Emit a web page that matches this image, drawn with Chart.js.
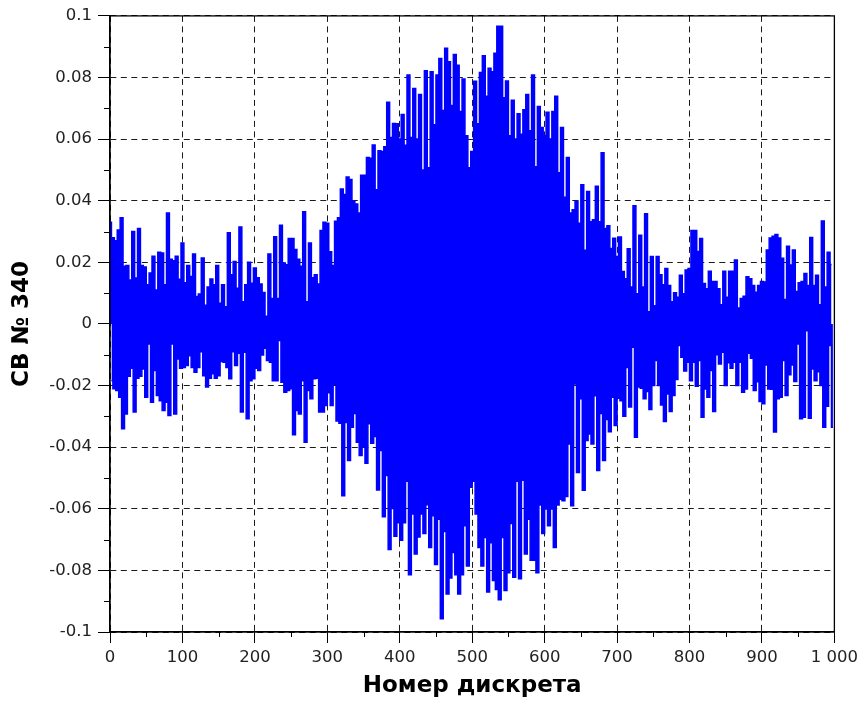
<!DOCTYPE html>
<html>
<head>
<meta charset="utf-8">
<script src="https://cdn.jsdelivr.net/npm/chart.js@4/dist/chart.umd.min.js"></script>
<style>
  html, body { margin: 0; padding: 0; background: #fff; }
  #wrap { width: 863px; height: 703px; }
</style>
</head>
<body>
<div id="wrap"><canvas id="c" width="863" height="703"></canvas></div>
<script>
// Positive swing of the signal, one value per 4 samples (samples 0, 4, 8, ...)
const peaksUp = [
  0.033, 0.028, 0.027, 0.0305, 0.0345, 0.0187, 0.019, 0.0143, 0.030, 0.0149, 0.031, 0.019, 0.0185, 0.0127, 0.0165, 0.022, 0.011, 0.0233, 0.023, 0.0127, 0.036, 0.021, 0.0205, 0.022, 0.0145,
  0.0263, 0.0134, 0.019, 0.0154, 0.0227, 0.0089, 0.0097, 0.0214, 0.0061, 0.012, 0.0146, 0.0127, 0.019, 0.0067, 0.0127, 0.0056, 0.0296, 0.016, 0.0203, 0.0116, 0.0315, 0.0072, 0.0127, 0.020, 0.0132,
  0.0182, 0.015, 0.013, 0.0102, 0.0025, 0.0227, 0.0083, 0.0283, 0.0083, 0.032, 0.0198, 0.0192, 0.0277, 0.0277, 0.0242, 0.021, 0.0187, 0.0364, 0.0072, 0.0263, 0.015, 0.016, 0.013, 0.0303, 0.033,
  0.0327, 0.0234, 0.019, 0.0333, 0.0345, 0.0438, 0.042, 0.0477, 0.0469, 0.0398, 0.0389, 0.036, 0.0483, 0.0483, 0.054, 0.0538, 0.0581, 0.0436, 0.0562, 0.056, 0.0575, 0.072, 0.0605, 0.0651, 0.065,
  0.060, 0.068, 0.058, 0.0808, 0.0605, 0.0764, 0.060, 0.0745, 0.050, 0.0822, 0.0507, 0.0819, 0.0647, 0.0808, 0.0862, 0.0693, 0.0895, 0.0851, 0.0709, 0.0875, 0.084, 0.069, 0.0795, 0.0611, 0.0507,
  0.056, 0.0788, 0.065, 0.0816, 0.0871, 0.0739, 0.083, 0.0819, 0.0879, 0.0966, 0.0966, 0.0734, 0.0789, 0.0611, 0.0726, 0.060, 0.0682, 0.0616, 0.0695, 0.0745, 0.0627, 0.0808, 0.051, 0.0706, 0.0638,
  0.0611, 0.0687, 0.060, 0.069, 0.0739, 0.0491, 0.0638, 0.0411, 0.054, 0.036, 0.0371, 0.0398, 0.0327, 0.0452, 0.0239, 0.043, 0.0332, 0.0338, 0.0447, 0.0332, 0.0556, 0.031, 0.0319, 0.0245, 0.0278,
  0.0219, 0.0282, 0.017, 0.0147, 0.0244, 0.012, 0.0384, 0.0098, 0.0288, 0.012, 0.0358, 0.004, 0.0219, 0.0059, 0.0219, 0.016, 0.0127, 0.018, 0.0125, 0.0072, 0.0101, 0.0087, 0.0158, 0.0098, 0.0175,
  0.018, 0.0303, 0.0303, 0.0235, 0.0277, 0.0131, 0.0114, 0.0171, 0.0138, 0.0138, 0.0114, 0.0062, 0.0171, 0.0087, 0.0171, 0.0171, 0.0208, 0.0052, 0.0083, 0.009, 0.0153, 0.0147, 0.0125, 0.0103, 0.0125,
  0.0138, 0.0136, 0.024, 0.0279, 0.0285, 0.029, 0.0279, 0.0213, 0.0079, 0.0252, 0.0191, 0.024, 0.0105, 0.0134, 0.0138, 0.0164, 0.0125, 0.0281, 0.0125, 0.0158, 0.0062, 0.0334, 0.012, 0.0233, 0.0193
];

// Negative swing of the signal, one value per 4 samples (samples 2, 6, 10, ...)
const peaksDown = [
  -0.0184, -0.021, -0.0216, -0.0238, -0.034, -0.0292, -0.017, -0.0144, -0.0286, -0.0176, -0.017, -0.0146, -0.0238, -0.0065, -0.0254, -0.0151, -0.0232, -0.0249, -0.0281, -0.0254, -0.0297, -0.0065, -0.0292, -0.0114, -0.0144,
  -0.0141, -0.0135, -0.0103, -0.0141, -0.0157, -0.0141, -0.009, -0.0168, -0.0205, -0.0176, -0.0162, -0.0176, -0.0168, -0.0122, -0.0124, -0.0141, -0.0178, -0.009, -0.0135, -0.0095, -0.0286, -0.0092, -0.0308, -0.0184, -0.0178,
  -0.0144, -0.0151, -0.0101, -0.0079, -0.0119, -0.0124, -0.0184, -0.0184, -0.0054, -0.0189, -0.0222, -0.0216, -0.021, -0.036, -0.0281, -0.0292, -0.0184, -0.0384, -0.0216, -0.0243, -0.0178, -0.0176, -0.0286, -0.0286, -0.0265,
  -0.0223, -0.0265, -0.0196, -0.0315, -0.0322, -0.0558, -0.032, -0.0443, -0.0335, -0.0291, -0.0384, -0.0427, -0.0398, -0.0452, -0.0324, -0.0387, -0.0365, -0.0539, -0.0411, -0.0626, -0.0492, -0.0732, -0.0599, -0.0689, -0.0645,
  -0.0702, -0.0645, -0.0511, -0.0814, -0.0617, -0.0747, -0.0692, -0.0617, -0.068, -0.0587, -0.0726, -0.0623, -0.0781, -0.0634, -0.0957, -0.0674, -0.0877, -0.0825, -0.0742, -0.0814, -0.0877, -0.0814, -0.0655, -0.0786, -0.053,
  -0.0511, -0.0617, -0.0726, -0.0786, -0.0693, -0.087, -0.071, -0.0833, -0.0862, -0.0895, -0.0693, -0.0865, -0.0808, -0.0648, -0.0822, -0.0511, -0.0827, -0.0507, -0.0747, -0.0634, -0.0767, -0.0767, -0.0808, -0.0588, -0.068,
  -0.0601, -0.0655, -0.0601, -0.0726, -0.0588, -0.0569, -0.0574, -0.056, -0.039, -0.059, -0.0195, -0.0482, -0.0243, -0.054, -0.0378, -0.0357, -0.039, -0.0233, -0.0476, -0.0291, -0.0443, -0.031, -0.035, -0.0238, -0.033,
  -0.0241, -0.0249, -0.03, -0.0141, -0.027, -0.0076, -0.0368, -0.0205, -0.0209, -0.0243, -0.0219, -0.0278, -0.02, -0.0119, -0.02, -0.0263, -0.0317, -0.0227, -0.0284, -0.0232, -0.018, -0.007, -0.0108, -0.0153, -0.0124,
  -0.0184, -0.0124, -0.0202, -0.0119, -0.0303, -0.0211, -0.0238, -0.0151, -0.0284, -0.01, -0.013, -0.0092, -0.02, -0.0126, -0.0144, -0.0124, -0.02, -0.0124, -0.0222, -0.0211, -0.0095, -0.0111, -0.0216, -0.0188, -0.0252,
  -0.0259, -0.0133, -0.0211, -0.0212, -0.0351, -0.0243, -0.0238, -0.0119, -0.0232, -0.0165, -0.0133, -0.0187, -0.0065, -0.0308, -0.0303, -0.0022, -0.0306, -0.0146, -0.0184, -0.0155, -0.02, -0.0335, -0.0267, -0.007, -0.0335
];

// Axis tick labels
const xTickLabels = ['0', '100', '200', '300', '400', '500', '600', '700', '800', '900', '1 000'];
const yTickLabels = ['-0.1', '-0.08', '-0.06', '-0.04', '-0.02', '0', '0.02', '0.04', '0.06', '0.08', '0.1'];

const xTitle = 'Номер дискрета';
const yTitle = 'СВ № 340';

// Each swing is placed at its own sample number
const upPoints = peaksUp.map((v, k) => ({ x: 4 * k, y: v }));
const downPoints = peaksDown.map((v, k) => ({ x: 4 * k + 2, y: v }));

const FONT = 'DejaVu Sans';
const BLUE = '#0000ff';

// Minor tick marks between major ticks plus the closed frame around the plot
const frameAndMinorTicks = {
  id: 'frameAndMinorTicks',
  afterDraw(chart) {
    const { ctx, chartArea: a } = chart;
    const xs = chart.scales.x, ys = chart.scales.y;
    ctx.save();
    ctx.strokeStyle = '#000';
    ctx.lineWidth = 1;
    ctx.beginPath();
    for (let i = 0; i < ys.ticks.length - 1; i++) {
      const v = (ys.ticks[i].value + ys.ticks[i + 1].value) / 2;
      const py = Math.round(ys.getPixelForValue(v)) + 0.5;
      ctx.moveTo(a.left - 6, py);
      ctx.lineTo(a.left, py);
    }
    for (let i = 0; i < xs.ticks.length - 1; i++) {
      const v = (xs.ticks[i].value + xs.ticks[i + 1].value) / 2;
      const px = Math.round(xs.getPixelForValue(v)) + 0.5;
      ctx.moveTo(px, a.bottom);
      ctx.lineTo(px, a.bottom + 5);
    }
    ctx.stroke();
    ctx.lineWidth = 1.3;
    ctx.strokeRect(a.left, a.top, a.right - a.left, a.bottom - a.top);
    ctx.restore();
  }
};

const swing = (points) => ({
  data: points,
  borderColor: BLUE,
  backgroundColor: BLUE,
  borderWidth: 1.5,
  pointRadius: 0,
  stepped: 'middle',
  fill: 'origin'
});

new Chart(document.getElementById('c'), {
  type: 'line',
  data: { datasets: [swing(upPoints), swing(downPoints)] },
  options: {
    responsive: false,
    animation: false,
    devicePixelRatio: 1,
    layout: { padding: { top: 14, right: 25, left: 0, bottom: 0 } },
    plugins: { legend: { display: false }, tooltip: { enabled: false } },
    scales: {
      x: {
        type: 'linear',
        min: 0,
        max: 1000,
        afterFit(scale) { scale.height = 71; },
        ticks: {
          stepSize: 100,
          maxRotation: 0,
          autoSkip: false,
          padding: 5,
          color: '#222',
          font: { family: FONT, size: 16.5 },
          callback: (v, i) => xTickLabels[i]
        },
        grid: { color: '#1a1a1a', lineWidth: 1, tickLength: 11, tickColor: '#000', tickWidth: 1 },
        border: { display: true, color: '#000', width: 1.3, dash: [6, 4.5] },
        title: {
          display: true,
          text: xTitle,
          color: '#000',
          font: { family: FONT, size: 23, weight: 'bold' },
          padding: { top: 0, bottom: 3 }
        }
      },
      y: {
        min: -0.1,
        max: 0.1,
        afterFit(scale) { scale.width = 110; },
        ticks: {
          stepSize: 0.02,
          autoSkip: false,
          padding: 6,
          color: '#222',
          font: { family: FONT, size: 16.5 },
          callback: (v, i) => yTickLabels[i]
        },
        grid: { color: '#1a1a1a', lineWidth: 1, tickLength: 12, tickColor: '#000', tickWidth: 1 },
        border: { display: true, color: '#000', width: 1.3, dash: [6, 4.5] },
        title: {
          display: true,
          text: yTitle,
          color: '#000',
          font: { family: FONT, size: 23, weight: 'bold' },
          padding: { top: 8, bottom: 0 }
        }
      }
    }
  },
  plugins: [frameAndMinorTicks]
});
</script>
</body>
</html>
